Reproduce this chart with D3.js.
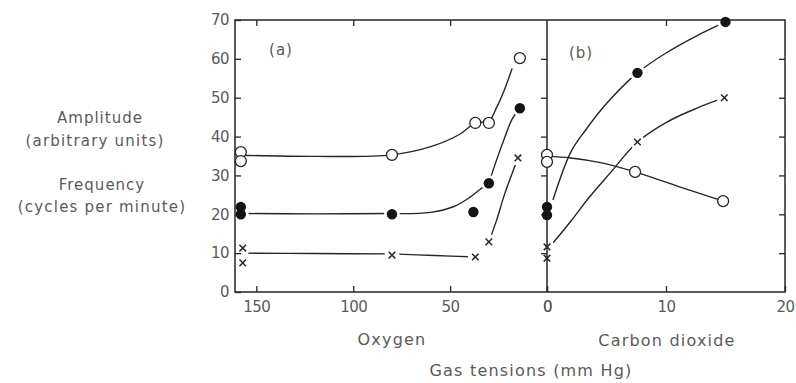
<!DOCTYPE html>
<html>
<head>
<meta charset="utf-8">
<script src="https://cdn.jsdelivr.net/npm/d3@7"></script>
<style>
  body { margin: 0; background: #fff; }
  text { font-family: "DejaVu Sans", sans-serif; fill: #5a5a5a; }
</style>
</head>
<body>
<div id="chart"></div>
<script>

// measured points, panel (a) oxygen tension, panel (b) carbon dioxide tension
const ampO2 = [[158, 36], [158, 33.7], [80, 35.3], [37, 43.5], [30, 43.5], [14, 60.2]];
const freqO2 = [[158, 21.9], [158, 20], [80, 20], [38, 20.6], [30, 28], [14, 47.3]];
const crossO2 = [[157, 11.3], [157, 7.5], [80, 9.5], [37, 9], [30, 12.9], [15, 34.5]];

const ampCO2 = [[0, 35.3], [0, 33.5], [7.4, 30.9], [14.8, 23.4]];
const freqCO2 = [[0, 21.9], [0, 19.8], [7.6, 56.4], [15, 69.5]];
const crossCO2 = [[0, 11.6], [0, 8.7], [7.6, 38.6], [14.9, 50]];

// hand drawn curves
const ampO2Curves = [
  [[158, 35.2], [120, 34.9], [80, 35.3], [60, 37.4], [45, 40.6], [37, 43.5], [30, 44], [26, 47.5], [22, 52], [18, 57.5]]
];
const freqO2Curves = [
  [[156, 20.2], [120, 20.1], [80, 20.2]],
  [[80, 20.2], [60, 20.5], [48, 22], [40, 24.3], [34, 26.6], [30, 28]],
  [[30, 28], [26, 34], [22, 39.5], [18, 44.5], [14, 47.3]]
];
const crossO2Curves = [
  [[155, 10], [120, 9.9], [80, 9.8]],
  [[80, 9.8], [58, 9.4], [37, 9]],
  [[30, 12.9], [26, 18.5], [22, 25], [18, 30.5], [15, 34.5]]
];

const ampCO2Curves = [
  [[0, 34.9], [2, 34.5], [4.5, 33.3], [7.4, 30.9], [11, 27.2], [14.8, 23.4]]
];
const freqCO2Curves = [
  [[0.5, 23.7], [2, 36], [3.2, 41.5], [5, 48.5], [7.6, 56.4], [10, 61.5], [12.5, 65.8], [15, 69.5]]
];
const crossCO2Curves = [
  [[0.5, 12.6], [2, 18.2], [3.5, 24.2], [5.3, 30.6], [7.6, 38.6], [10, 43.6], [12.5, 47.2], [14.9, 50]]
];

const yTicks = [0, 10, 20, 30, 40, 50, 60, 70];
const o2Ticks = [150, 100, 50, 0];
const co2Ticks = [0, 10, 20];

const width = 796, height = 383;
const x0 = 235, xMid = 547, x1 = 785;
const yTop = 20, yBot = 292;

const svg = d3.select('#chart').append('svg')
  .attr('width', width)
  .attr('height', height);

const xO2 = d3.scaleLinear().domain([161, 0]).range([x0, xMid]);
const xCO2 = d3.scaleLinear().domain([0, 20]).range([xMid, x1]);
const y = d3.scaleLinear().domain([0, 70]).range([yBot, yTop]);

const ink = '#262626';

// curves
function drawCurves(curves, xs) {
  const line = d3.line()
    .x(d => xs(d[0]))
    .y(d => y(d[1]))
    .curve(d3.curveCatmullRom.alpha(0.5));
  svg.append('g')
    .selectAll('path')
    .data(curves)
    .enter()
    .append('path')
    .attr('d', line)
    .attr('fill', 'none')
    .attr('stroke', ink)
    .attr('stroke-width', 1.4);
}
drawCurves(ampO2Curves, xO2);
drawCurves(freqO2Curves, xO2);
drawCurves(crossO2Curves, xO2);
drawCurves(ampCO2Curves, xCO2);
drawCurves(freqCO2Curves, xCO2);
drawCurves(crossCO2Curves, xCO2);

// white gaps round the solid markers
function halo(pts, xs, r) {
  svg.append('g')
    .selectAll('circle')
    .data(pts)
    .enter()
    .append('circle')
    .attr('cx', d => xs(d[0]))
    .attr('cy', d => y(d[1]))
    .attr('r', r)
    .attr('fill', '#fff');
}
halo(freqO2, xO2, 8);
halo(crossO2, xO2, 7.5);
halo(freqCO2, xCO2, 8);
halo(crossCO2, xCO2, 7.5);

// axes
const gAx = svg.append('g');

gAx.append('rect')
  .attr('x', x0).attr('y', yTop)
  .attr('width', x1 - x0).attr('height', yBot - yTop)
  .attr('fill', 'none')
  .attr('stroke', ink)
  .attr('stroke-width', 1.5);

gAx.append('line')
  .attr('x1', xMid).attr('x2', xMid)
  .attr('y1', yTop).attr('y2', yBot)
  .attr('stroke', ink)
  .attr('stroke-width', 1.5);

const yLeft = gAx.append('g')
  .attr('transform', 'translate(' + x0 + ',0)')
  .call(d3.axisLeft(y).tickValues(yTicks).tickSize(-6).tickSizeOuter(0).tickPadding(6));

const yMidAx = gAx.append('g')
  .attr('transform', 'translate(' + xMid + ',0)')
  .call(d3.axisLeft(y).tickValues(yTicks.slice(1, 7)).tickSize(6).tickSizeOuter(0).tickFormat(''));

const yRight = gAx.append('g')
  .attr('transform', 'translate(' + x1 + ',0)')
  .call(d3.axisRight(y).tickValues(yTicks.slice(1, 7)).tickSize(-6).tickSizeOuter(0).tickFormat(''));

const xBotO2 = gAx.append('g')
  .attr('transform', 'translate(0,' + yBot + ')')
  .call(d3.axisBottom(xO2).tickValues(o2Ticks).tickSize(-6).tickSizeOuter(0).tickPadding(9));

const xBotCO2 = gAx.append('g')
  .attr('transform', 'translate(0,' + yBot + ')')
  .call(d3.axisBottom(xCO2).tickValues(co2Ticks).tickSize(-6).tickSizeOuter(0).tickPadding(9));

const xTopO2 = gAx.append('g')
  .attr('transform', 'translate(0,' + yTop + ')')
  .call(d3.axisTop(xO2).tickValues([150, 100, 50]).tickSize(-6).tickSizeOuter(0).tickFormat(''));

const xTopCO2 = gAx.append('g')
  .attr('transform', 'translate(0,' + yTop + ')')
  .call(d3.axisTop(xCO2).tickValues([10]).tickSize(-6).tickSizeOuter(0).tickFormat(''));

gAx.selectAll('.domain').remove();
gAx.selectAll('.tick line').attr('stroke', ink).attr('stroke-width', 1.3);
gAx.selectAll('.tick text')
  .attr('fill', '#5a5a5a')
  .style('font-size', '15px')
  .style('font-family', '"DejaVu Sans", sans-serif')
  .style('letter-spacing', '-0.5px');

// markers
function openCircles(pts, xs) {
  svg.append('g')
    .selectAll('circle')
    .data(pts)
    .enter()
    .append('circle')
    .attr('cx', d => xs(d[0]))
    .attr('cy', d => y(d[1]))
    .attr('r', 5.5)
    .attr('fill', '#fff')
    .attr('stroke', ink)
    .attr('stroke-width', 1.3);
}
function dots(pts, xs) {
  svg.append('g')
    .selectAll('circle')
    .data(pts)
    .enter()
    .append('circle')
    .attr('cx', d => xs(d[0]))
    .attr('cy', d => y(d[1]))
    .attr('r', 5.2)
    .attr('fill', '#141414');
}
function crosses(pts, xs) {
  const s = 3.3;
  svg.append('g')
    .selectAll('path')
    .data(pts)
    .enter()
    .append('path')
    .attr('d', d => {
      const cx = xs(d[0]), cy = y(d[1]);
      return 'M' + (cx - s) + ',' + (cy - s) + 'L' + (cx + s) + ',' + (cy + s) +
             'M' + (cx - s) + ',' + (cy + s) + 'L' + (cx + s) + ',' + (cy - s);
    })
    .attr('stroke', ink)
    .attr('stroke-width', 1.5);
}
openCircles(ampO2, xO2);
openCircles(ampCO2, xCO2);
dots(freqO2, xO2);
dots(freqCO2, xCO2);
crosses(crossO2, xO2);
crosses(crossCO2, xCO2);

// labels
function label(txt, x, yy, size, ls) {
  svg.append('text')
    .attr('x', x)
    .attr('y', yy)
    .attr('text-anchor', 'middle')
    .style('font-size', size + 'px')
    .style('letter-spacing', ls + 'px')
    .text(txt);
}
label('(a)', 281, 55, 15, 1);
label('(b)', 581, 58, 15, 1);
label('Amplitude', 100, 123, 15, 1);
label('(arbitrary units)', 95, 146, 15, 1.2);
label('Frequency', 102, 190, 15, 1);
label('(cycles per minute)', 102, 212, 15, 1.2);
label('Oxygen', 392, 345, 16, 1.2);
label('Carbon dioxide', 667, 346, 16, 1.2);
label('Gas tensions (mm Hg)', 531, 376, 16, 1.2);

</script>
</body>
</html>
